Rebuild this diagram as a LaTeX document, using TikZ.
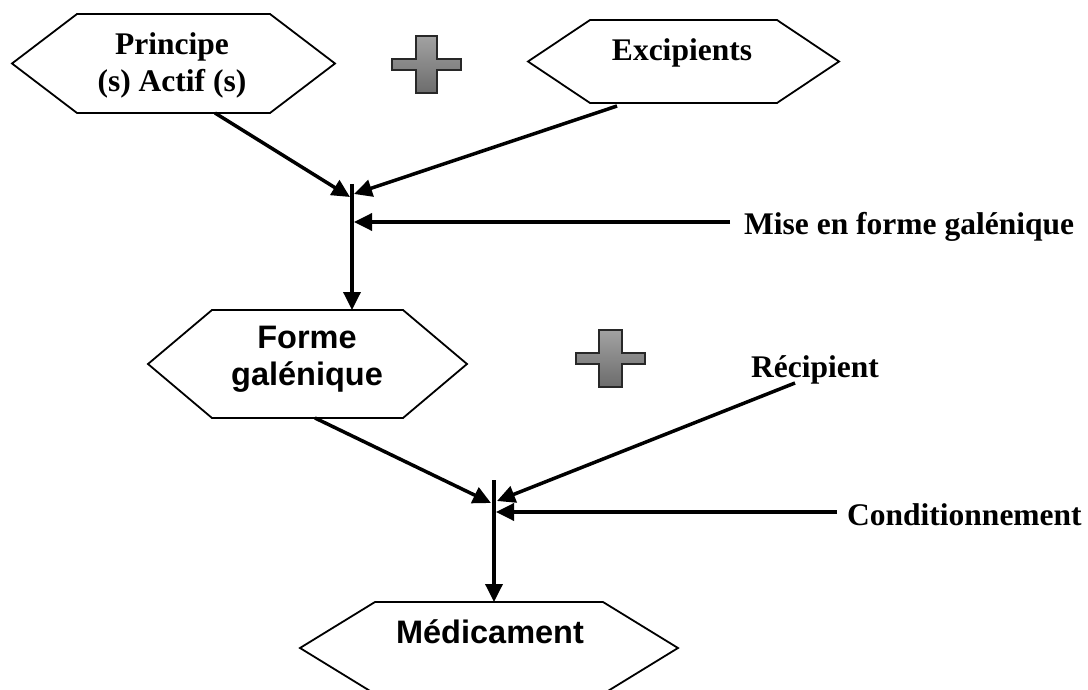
\documentclass[tikz,border=0pt]{standalone}
\usepackage{fontspec}
\setmainfont{Liberation Serif}
\setsansfont{Liberation Sans}
\usetikzlibrary{arrows.meta}

\definecolor{plustop}{RGB}{162,162,162}
\definecolor{plusbot}{RGB}{108,108,108}
\definecolor{plusedge}{RGB}{40,40,40}

\tikzset{
  hexline/.style={draw=black, line width=1.8pt, line join=miter},
  serifbf/.style={font=\fontsize{31.5}{37}\selectfont\rmfamily\bfseries, inner sep=0pt, align=center},
  sansbf/.style={font=\fontsize{32.5}{37}\selectfont\sffamily\bfseries, inner sep=0pt, align=center},
  flow/.style={line width=3.5pt, -{Triangle[length=18pt,width=17pt]}},
  plusmark/.style={top color=plustop, bottom color=plusbot, draw=plusedge, line width=1.5pt}
}

\begin{document}
\begin{tikzpicture}[x=1pt,y=-1pt]
\useasboundingbox (0,0) rectangle (1088,690);

% hexagonal boxes
\draw[hexline] (12,63.5) -- (77,14) -- (270,14) -- (335,63.5) -- (270,113) -- (77,113) -- cycle;
\draw[hexline] (528,61.5) -- (590,20) -- (777,20) -- (839,61.5) -- (777,103) -- (590,103) -- cycle;
\draw[hexline] (148,364) -- (212,310) -- (403,310) -- (467,364) -- (403,418) -- (212,418) -- cycle;
\draw[hexline] (300,648) -- (375,602) -- (603,602) -- (678,648) -- (603,694) -- (375,694) -- cycle;

% labels (two-line labels are anchored on the baseline of their last line)
\node[serifbf, anchor=base] (pa) at (172,92) {Principe\\(s) Actif (s)};
\node[serifbf, anchor=base] (ex) at (682,61) {Excipients};
\node[sansbf, anchor=base] (fg) at (307,385) {Forme\\galénique};
\node[sansbf, anchor=base] (med) at (490,643) {Médicament};
\node[serifbf, anchor=base west] (mise) at (744,235) {Mise en forme galénique};
\node[serifbf, anchor=base west] (recip) at (751,377) {Récipient};
\node[serifbf, anchor=base west] (cond) at (847,525) {Conditionnement};

% plus signs
\shade[plusmark] (416,36) -- (437,36) -- (437,59) -- (461,59) -- (461,70) -- (437,70)
  -- (437,93) -- (416,93) -- (416,70) -- (392,70) -- (392,59) -- (416,59) -- cycle;
\shade[plusmark] (599,330) -- (622,330) -- (622,353) -- (645,353) -- (645,364) -- (622,364)
  -- (622,387) -- (599,387) -- (599,364) -- (576,364) -- (576,353) -- (599,353) -- cycle;

% connection points
\coordinate (paout) at (215,113);
\coordinate (exout) at (617,106);
\coordinate (miseend) at (730,222);
\coordinate (j1top) at (352,184);
\coordinate (j1l) at (350,197);
\coordinate (j1r) at (354,194);
\coordinate (j1m) at (354,222);
\coordinate (fgin) at (352,310);

\coordinate (fgout) at (315,418);
\coordinate (recout) at (795,383);
\coordinate (condend) at (837,512);
\coordinate (j2top) at (494,480);
\coordinate (j2l) at (491,503);
\coordinate (j2r) at (497,501);
\coordinate (j2m) at (496,512);
\coordinate (medin) at (494,602);

% first stage
\draw[flow] (paout) -- (j1l);
\draw[flow] (exout) -- (j1r);
\draw[flow] (miseend) -- (j1m);
\draw[flow] (j1top) -- (fgin);

% second stage
\draw[flow] (fgout) -- (j2l);
\draw[flow] (recout) -- (j2r);
\draw[flow] (condend) -- (j2m);
\draw[flow] (j2top) -- (medin);
\end{tikzpicture}
\end{document}
